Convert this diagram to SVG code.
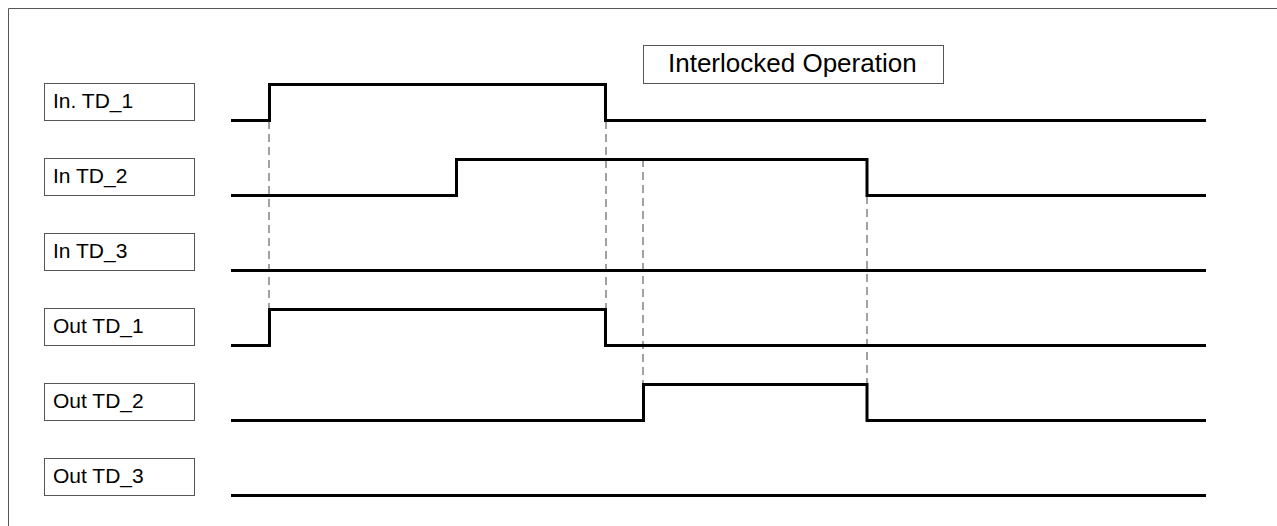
<svg xmlns="http://www.w3.org/2000/svg" width="1277" height="526" viewBox="0 0 1277 526">
<style>
.lbl{fill:#fff;stroke:#555;stroke-width:1}
.t{font-family:"Liberation Sans",Arial,sans-serif;font-size:21px;fill:#000}
.w{fill:none;stroke:#000;stroke-width:3;stroke-linejoin:miter;stroke-linecap:butt}
.d{fill:none;stroke:#444;stroke-width:1;stroke-dasharray:8 5}
</style>
<rect width="1277" height="526" fill="#fff"/>
<path d="M8.5 526V8.5H1277" fill="none" stroke="#555" stroke-width="1"/>
<g id="title"><rect class="lbl" x="643.5" y="45.5" width="300" height="38"/><text class="t" x="668" y="72" style="font-size:26px">Interlocked Operation</text></g>
<g id="in1"><rect class="lbl" x="44.5" y="83.5" width="150" height="37"/><text class="t" x="53" y="108">In. TD_1</text></g>
<g id="in2"><rect class="lbl" x="44.5" y="158.5" width="150" height="37"/><text class="t" x="53" y="183">In TD_2</text></g>
<g id="in3"><rect class="lbl" x="44.5" y="233.5" width="150" height="37"/><text class="t" x="53" y="258">In TD_3</text></g>
<g id="out1"><rect class="lbl" x="44.5" y="308.5" width="150" height="37"/><text class="t" x="53" y="333">Out TD_1</text></g>
<g id="out2"><rect class="lbl" x="44.5" y="383.5" width="150" height="37"/><text class="t" x="53" y="408">Out TD_2</text></g>
<g id="out3"><rect class="lbl" x="44.5" y="458.5" width="150" height="37"/><text class="t" x="53" y="483">Out TD_3</text></g>
<g id="connectors">
<path class="d" d="M269 121V308"/>
<path class="d" d="M606 121V308"/>
<path class="d" d="M643 159V383"/>
<path class="d" d="M867 196V383"/>
<path class="w" d="M231 120.5H269.5V84.5H605.5V120.5H1206"/>
<path class="w" d="M231 195.5H456.5V159.5H867V195.5H1206"/>
<path class="w" d="M231 270.5H1206"/>
<path class="w" d="M231 345.5H269.5V309.5H605.5V345.5H1206"/>
<path class="w" d="M231 420.5H643.5V384.5H867V420.5H1206"/>
<path class="w" d="M231 495.5H1206"/>
</g>
</svg>
